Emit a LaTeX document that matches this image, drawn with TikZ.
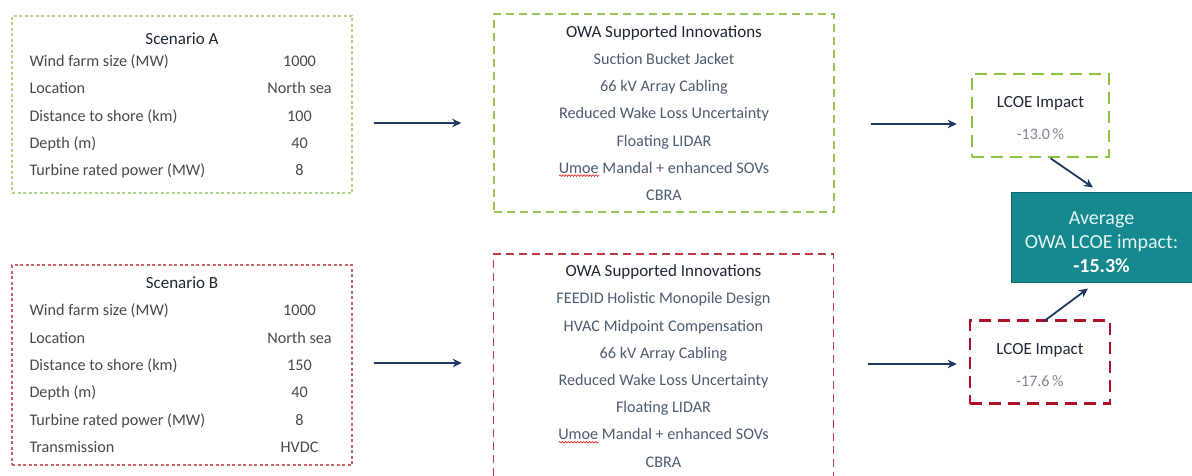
\documentclass[tikz,border=0pt]{standalone}
\usepackage{fontspec}
\setmainfont{Carlito}
\usepackage{array}
\usetikzlibrary{arrows.meta,calc,decorations.pathmorphing}
\definecolor{ScenGreen}{HTML}{B2D38A}
\definecolor{InnoGreen}{HTML}{9BC45A}
\definecolor{ImpGreen}{HTML}{8CC43F}
\definecolor{ScenRed}{HTML}{C9626A}
\definecolor{InnoRed}{HTML}{BE3A48}
\definecolor{ImpRed}{HTML}{AE1128}
\definecolor{ArrowNavy}{HTML}{1F3864}
\definecolor{AvgTeal}{HTML}{15898D}
\definecolor{AvgEdge}{HTML}{0F6A6D}
\definecolor{AvgText}{HTML}{E2F5F5}
\definecolor{LabelGray}{HTML}{4A4A4A}
\definecolor{ItemSlate}{HTML}{4E5D70}
\definecolor{TitleInk}{HTML}{1E2733}
\definecolor{PctGray}{HTML}{7F8790}
\definecolor{SpellRed}{HTML}{E03030}

\newsavebox\flagbox
\newcommand\boxtitle[1]{{\color{TitleInk}\fontsize{17}{27}\selectfont #1}}
% word with a wavy red underline
\newcommand\spellflag[1]{\sbox\flagbox{#1}%
  \rlap{\raisebox{-3.5pt}{\tikz\draw[SpellRed,line width=0.7pt,decorate,
    decoration={snake,amplitude=0.8pt,segment length=3pt}] (0,0) -- (\wd\flagbox,0);}}#1}

\tikzset{
  scenbox/.style={draw,line width=1.2pt,dash pattern=on 3pt off 2.5pt,
    minimum width=340pt,inner sep=0pt,text=LabelGray,
    font=\fontsize{16.2}{27.3}\selectfont},
  innobox/.style={draw,line width=1.6pt,dash pattern=on 8pt off 5pt,
    minimum width=340pt,inner sep=0pt,align=center,text=ItemSlate,
    font=\fontsize{16.2}{27.2}\selectfont},
  impbox/.style={draw,line width=2.6pt,dash pattern=on 12pt off 7pt,
    minimum width=137pt,minimum height=83pt,inner sep=0pt,align=center,
    text=TitleInk,font=\fontsize{17}{32}\selectfont},
  avgbox/.style={draw=AvgEdge,fill=AvgTeal,line width=1pt,
    minimum width=181pt,minimum height=89pt,inner sep=0pt,align=center,
    text=AvgText,font=\fontsize{20}{24}\selectfont},
  flow/.style={ArrowNavy,line width=1.8pt,-{Stealth[length=9pt,width=8.5pt]}}
}

\begin{document}
\begin{tikzpicture}[x=1pt,y=-1pt,line cap=butt]
  \useasboundingbox (0,0) rectangle (1192,476);
  \fill[white] (0,0) rectangle (1192,476);
  \clip (0,0) rectangle (1192,476);

  % scenario inputs
  \node[scenbox,draw=ScenGreen,minimum height=177pt] (scenA) at (182,104.5) {%
    \begin{tabular}{@{}p{235pt}@{}>{\centering\arraybackslash}p{70pt}@{}}
      \multicolumn{2}{@{}c@{}}{\boxtitle{Scenario A}}\\[-5pt]
      Wind farm size (MW) & 1000\\
      Location & North sea\\
      Distance to shore (km) & 100\\
      Depth (m) & 40\\
      Turbine rated power (MW) & 8
    \end{tabular}};
  \node[scenbox,draw=ScenRed,minimum height=200pt] (scenB) at (182,365) {%
    \begin{tabular}{@{}p{235pt}@{}>{\centering\arraybackslash}p{70pt}@{}}
      \multicolumn{2}{@{}c@{}}{\boxtitle{Scenario B}}\\
      Wind farm size (MW) & 1000\\
      Location & North sea\\
      Distance to shore (km) & 150\\
      Depth (m) & 40\\
      Turbine rated power (MW) & 8\\
      Transmission & HVDC
    \end{tabular}};

  % innovations per scenario
  \node[innobox,draw=InnoGreen,minimum height=198pt] (innoA) at (664,113) {%
    \boxtitle{OWA Supported Innovations}\\
    Suction Bucket Jacket\\
    66 kV Array Cabling\\
    Reduced Wake Loss Uncertainty\\
    Floating LIDAR\\
    \spellflag{Umoe} Mandal + enhanced SOVs\\
    CBRA};
  \node[innobox,draw=InnoRed,minimum height=224pt] (innoB) at (663.5,366) {%
    \boxtitle{OWA Supported Innovations}\\
    FEEDID Holistic Monopile Design\\
    HVAC Midpoint Compensation\\
    66 kV Array Cabling\\
    Reduced Wake Loss Uncertainty\\
    Floating LIDAR\\
    \spellflag{Umoe} Mandal + enhanced SOVs\\
    CBRA};

  % LCOE results
  \node[impbox,draw=ImpGreen] (impA) at (1040.5,115.5) {%
    \rule{0pt}{17pt}LCOE Impact\\ {\color{PctGray}\fontsize{16}{32}\selectfont-13.0\,\%}};
  \node[impbox,draw=ImpRed,minimum width=140pt] (impB) at (1040,362) {%
    \rule{0pt}{17pt}LCOE Impact\\ {\color{PctGray}\fontsize{16}{32}\selectfont-17.6\,\%}};
  \node[avgbox] (avg) at (1101.5,237.5) {%
    \rule{0pt}{22pt}Average\\ OWA LCOE impact:\\ {\color{white}\bfseries -15.3\%}};

  % connectors
  \draw[flow] ($(scenA.east)+(21,18.5)$) -- ($(innoA.west)+(-32,10)$);
  \draw[flow] ($(innoA.east)+(36,11)$) -- ($(impA.west)+(-14,8.5)$);
  \draw[flow] ($(scenB.east)+(21,-2)$) -- ($(innoB.west)+(-31,-3)$);
  \draw[flow] ($(innoB.east)+(34,-2)$) -- ($(impB.west)+(-12,2)$);
  \draw[flow] ($(impA.south)+(10,0)$) -- ($(avg.north)+(-8.5,-5)$);
  \draw[flow] ($(impB.north)+(4,2)$) -- ($(avg.south)+(-13.5,6)$);
\end{tikzpicture}
\end{document}
